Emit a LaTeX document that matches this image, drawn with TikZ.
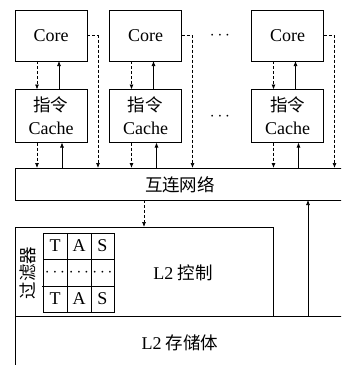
\documentclass[tikz,border=0pt]{standalone}
\usepackage{fontspec}
\setmainfont{Liberation Serif}
\newfontfamily\cjk{Noto Sans CJK SC}
\usetikzlibrary{arrows.meta}
\begin{document}
\begin{tikzpicture}[x=1pt,y=-1pt,
  lw/.style={line width=0.7pt},
  box/.style={draw, lw, inner sep=0pt, outer sep=0pt, font=\fontsize{18}{23}\selectfont, align=center},
  corebox/.style={box, minimum width=72pt, minimum height=51pt},
  cachebox/.style={box, minimum width=72pt, minimum height=53pt},
  lbl/.style={inner sep=0pt, font=\fontsize{18}{20}\selectfont},
  tip/.style={-{Latex[length=5pt,width=4pt]}},
  darr/.style={lw, tip, dash pattern=on 3pt off 2pt},
  sarr/.style={lw, tip}]
\useasboundingbox (0,0) rectangle (341,365);
\clip (0,0) rectangle (341,365);
% cores
\node[corebox] (core1) at (51,35.5) {Core};
\node[corebox] (core2) at (145.5,35.5) {Core};
\node[corebox] (core3) at (287.5,35.5) {Core};
% caches
\node[cachebox] (cache1) at (51,116) {{\cjk\fontsize{17.5}{23}\selectfont 指令}\\Cache};
\node[cachebox] (cache2) at (145.5,116) {{\cjk\fontsize{17.5}{23}\selectfont 指令}\\Cache};
\node[cachebox] (cache3) at (287.5,116) {{\cjk\fontsize{17.5}{23}\selectfont 指令}\\Cache};
\node[lbl] (dots1) at (220,36) {$\cdots$};
\node[lbl] (dots2) at (220,117) {$\cdots$};
% network
\node[box, minimum width=330pt, minimum height=32pt, anchor=north west] (net) at (15,168) {};
\node[lbl, font=\fontsize{17.5}{20}\selectfont\cjk] (netlbl) at (180,185) {互连网络};
% L2
\node[box, minimum width=258pt, minimum height=89pt, anchor=north west] (l2c) at (15,227) {};
\node[lbl] (l2clbl) at (183,273) {L2 {\cjk\fontsize{17.5}{20}\selectfont 控制}};
\node[box, minimum width=330pt, minimum height=60pt, anchor=north west] (l2s) at (15,316) {};
\node[lbl] (l2slbl) at (180,343) {L2 {\cjk\fontsize{17.5}{20}\selectfont 存储体}};
% filter table
\draw[lw] (43,233) rectangle (114,312);
\draw[lw] (67,233) -- (67,312) (91,233) -- (91,312) (43,259) -- (114,259) (42,286) -- (114,286);
\foreach \r/\y in {a/246, c/299} {
  \node[lbl] (t\r) at (55,\y) {T};
  \node[lbl] (a\r) at (79,\y) {A};
  \node[lbl] (s\r) at (102.5,\y) {S};
}
\node[lbl] (d1) at (55,272.5) {$\cdots$};
\node[lbl] (d2) at (79,272.5) {$\cdots$};
\node[lbl] (d3) at (102.5,272.5) {$\cdots$};
\node[lbl, rotate=90, font=\fontsize{17.5}{20}\selectfont\cjk] (filt) at (28,273) {过滤器};
% core <-> cache arrows
\foreach \i in {1,2,3} {
  \draw[darr] ([xshift=22pt]core\i.south west) -- ([xshift=22pt]cache\i.north west);
  \draw[sarr] ([xshift=44pt]cache\i.north west) -- ([xshift=44pt]core\i.south west);
  \draw[darr] ([xshift=22pt]cache\i.south west) -- ([xshift=22pt]cache\i.south west |- net.north);
  \draw[sarr] ([xshift=47pt]cache\i.south west |- net.north) -- ([xshift=47pt]cache\i.south west);
  \draw[darr] (core\i.east) -| ([xshift=11pt]core\i.east |- net.north);
}
% network <-> L2
\draw[darr] (144,200) -- (144,227);
\draw[sarr] (308,316) -- (308,200);
\end{tikzpicture}
\end{document}
